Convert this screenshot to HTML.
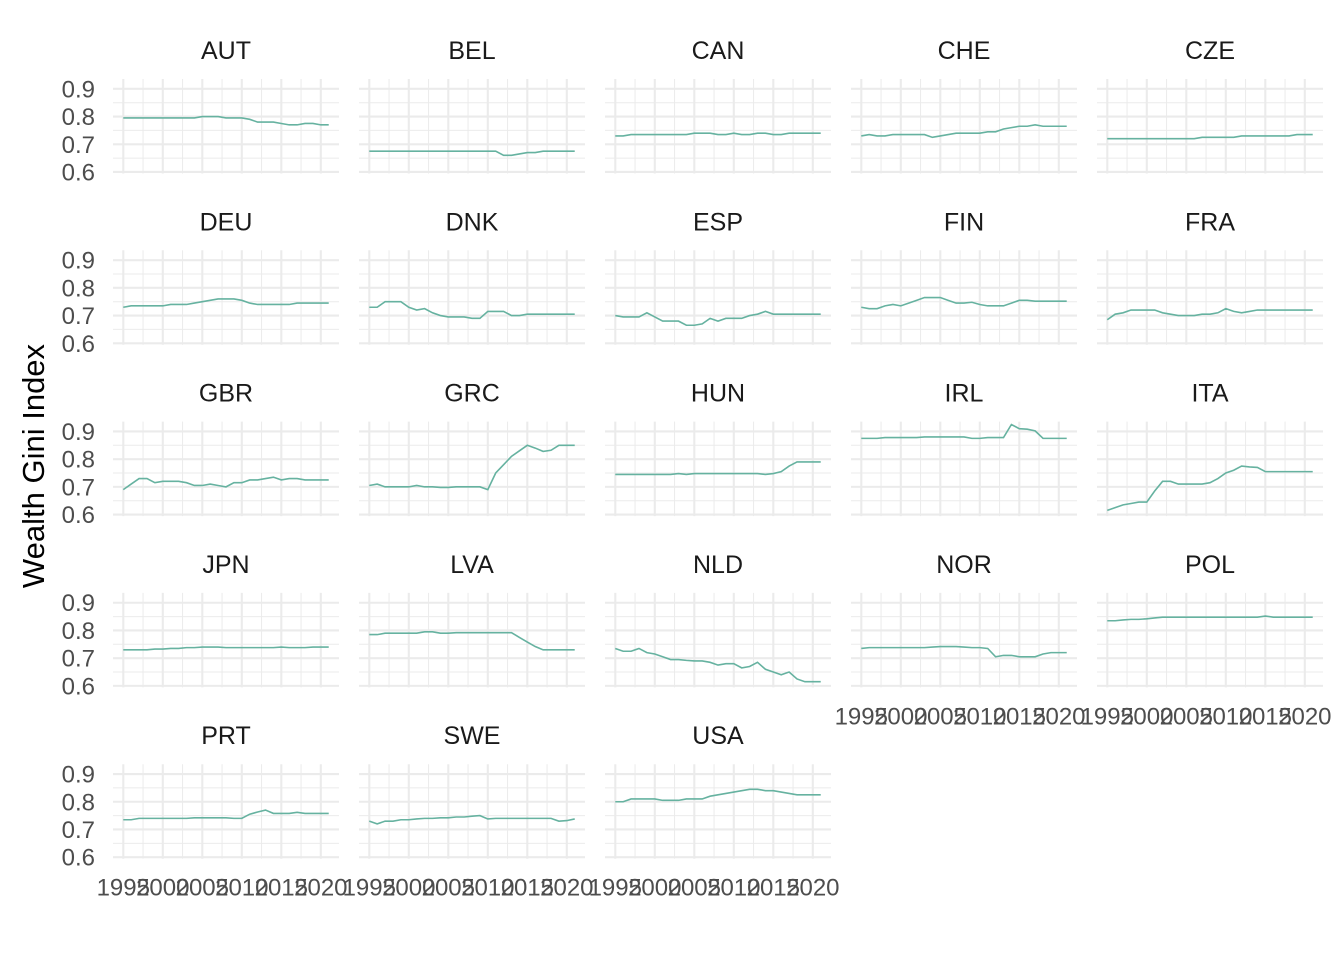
<!DOCTYPE html>
<html><head><meta charset="utf-8"><style>
html,body{margin:0;padding:0;background:#fff;}
svg{display:block;font-family:"Liberation Sans",Arial,sans-serif;}
</style></head><body>
<svg id="chart" width="1344" height="960" viewBox="0 0 1344 960"></svg>
<script>
const countries = ["AUT","BEL","CAN","CHE","CZE","DEU","DNK","ESP","FIN","FRA","GBR","GRC","HUN","IRL","ITA","JPN","LVA","NLD","NOR","POL","PRT","SWE","USA"];
const years = [1995,1996,1997,1998,1999,2000,2001,2002,2003,2004,2005,2006,2007,2008,2009,2010,2011,2012,2013,2014,2015,2016,2017,2018,2019,2020,2021];
const xTicks = [1995,2000,2005,2010,2015,2020];
const yTicks = [0.6,0.7,0.8,0.9];
const yTickLabels = ["0.6","0.7","0.8","0.9"];
const AUT = [0.795,0.795,0.795,0.795,0.795,0.795,0.795,0.795,0.795,0.795,0.8,0.8,0.8,0.795,0.795,0.795,0.79,0.78,0.78,0.78,0.775,0.77,0.77,0.775,0.775,0.77,0.77];
const BEL = [0.675,0.675,0.675,0.675,0.675,0.675,0.675,0.675,0.675,0.675,0.675,0.675,0.675,0.675,0.675,0.675,0.675,0.66,0.66,0.665,0.67,0.67,0.675,0.675,0.675,0.675,0.675];
const CAN = [0.73,0.73,0.735,0.735,0.735,0.735,0.735,0.735,0.735,0.735,0.74,0.74,0.74,0.735,0.735,0.74,0.735,0.735,0.74,0.74,0.735,0.735,0.74,0.74,0.74,0.74,0.74];
const CHE = [0.73,0.735,0.73,0.73,0.735,0.735,0.735,0.735,0.735,0.725,0.73,0.735,0.74,0.74,0.74,0.74,0.745,0.745,0.755,0.76,0.765,0.765,0.77,0.765,0.765,0.765,0.765];
const CZE = [0.72,0.72,0.72,0.72,0.72,0.72,0.72,0.72,0.72,0.72,0.72,0.72,0.725,0.725,0.725,0.725,0.725,0.73,0.73,0.73,0.73,0.73,0.73,0.73,0.735,0.735,0.735];
const DEU = [0.73,0.735,0.735,0.735,0.735,0.735,0.74,0.74,0.74,0.745,0.75,0.755,0.76,0.76,0.76,0.755,0.745,0.74,0.74,0.74,0.74,0.74,0.745,0.745,0.745,0.745,0.745];
const DNK = [0.73,0.73,0.75,0.75,0.75,0.73,0.72,0.725,0.71,0.70,0.695,0.695,0.695,0.69,0.69,0.715,0.715,0.715,0.70,0.70,0.705,0.705,0.705,0.705,0.705,0.705,0.705];
const ESP = [0.70,0.695,0.695,0.695,0.71,0.695,0.68,0.68,0.68,0.665,0.665,0.67,0.69,0.68,0.69,0.69,0.69,0.70,0.705,0.715,0.705,0.705,0.705,0.705,0.705,0.705,0.705];
const FIN = [0.73,0.725,0.725,0.735,0.74,0.735,0.745,0.755,0.765,0.765,0.765,0.755,0.745,0.745,0.748,0.74,0.735,0.735,0.735,0.745,0.755,0.755,0.752,0.752,0.752,0.752,0.752];
const FRA = [0.685,0.705,0.71,0.72,0.72,0.72,0.72,0.71,0.705,0.70,0.70,0.70,0.705,0.705,0.71,0.725,0.715,0.71,0.715,0.72,0.72,0.72,0.72,0.72,0.72,0.72,0.72];
const GBR = [0.69,0.71,0.73,0.73,0.715,0.72,0.72,0.72,0.715,0.705,0.705,0.71,0.705,0.70,0.715,0.715,0.725,0.725,0.73,0.735,0.725,0.73,0.73,0.725,0.725,0.725,0.725];
const GRC = [0.705,0.71,0.70,0.70,0.70,0.70,0.705,0.70,0.70,0.698,0.698,0.70,0.70,0.70,0.70,0.69,0.75,0.78,0.81,0.83,0.85,0.84,0.828,0.832,0.85,0.85,0.85];
const HUN = [0.745,0.745,0.745,0.745,0.745,0.745,0.745,0.745,0.748,0.745,0.748,0.748,0.748,0.748,0.748,0.748,0.748,0.748,0.748,0.745,0.748,0.755,0.775,0.79,0.79,0.79,0.79];
const IRL = [0.875,0.875,0.875,0.878,0.878,0.878,0.878,0.878,0.88,0.88,0.88,0.88,0.88,0.88,0.875,0.875,0.878,0.878,0.878,0.925,0.91,0.908,0.902,0.875,0.875,0.875,0.875];
const ITA = [0.615,0.625,0.635,0.64,0.645,0.645,0.685,0.72,0.72,0.71,0.71,0.71,0.71,0.715,0.73,0.75,0.76,0.775,0.772,0.77,0.755,0.755,0.755,0.755,0.755,0.755,0.755];
const JPN = [0.73,0.73,0.73,0.73,0.733,0.733,0.735,0.735,0.738,0.738,0.74,0.74,0.74,0.738,0.738,0.738,0.738,0.738,0.738,0.738,0.74,0.738,0.738,0.738,0.74,0.74,0.74];
const LVA = [0.785,0.785,0.79,0.79,0.79,0.79,0.79,0.795,0.795,0.79,0.79,0.792,0.792,0.792,0.792,0.792,0.792,0.792,0.792,0.775,0.758,0.742,0.73,0.73,0.73,0.73,0.73];
const NLD = [0.735,0.725,0.725,0.735,0.72,0.715,0.705,0.695,0.695,0.692,0.69,0.69,0.685,0.675,0.68,0.68,0.665,0.67,0.685,0.66,0.65,0.64,0.65,0.625,0.615,0.615,0.615];
const NOR = [0.735,0.738,0.738,0.738,0.738,0.738,0.738,0.738,0.738,0.74,0.742,0.742,0.742,0.74,0.738,0.738,0.735,0.705,0.71,0.71,0.705,0.705,0.705,0.715,0.72,0.72,0.72];
const POL = [0.835,0.835,0.838,0.84,0.84,0.842,0.845,0.848,0.848,0.848,0.848,0.848,0.848,0.848,0.848,0.848,0.848,0.848,0.848,0.848,0.852,0.848,0.848,0.848,0.848,0.848,0.848];
const PRT = [0.735,0.735,0.74,0.74,0.74,0.74,0.74,0.74,0.74,0.742,0.742,0.742,0.742,0.742,0.74,0.74,0.755,0.763,0.77,0.758,0.758,0.758,0.762,0.758,0.758,0.758,0.758];
const SWE = [0.73,0.72,0.73,0.73,0.735,0.735,0.738,0.74,0.74,0.742,0.742,0.745,0.745,0.748,0.75,0.738,0.74,0.74,0.74,0.74,0.74,0.74,0.74,0.74,0.73,0.732,0.738];
const USA = [0.80,0.80,0.81,0.81,0.81,0.81,0.805,0.805,0.805,0.81,0.81,0.81,0.82,0.825,0.83,0.835,0.84,0.845,0.845,0.84,0.84,0.835,0.83,0.825,0.825,0.825,0.825];
const seriesByCountry = {AUT,BEL,CAN,CHE,CZE,DEU,DNK,ESP,FIN,FRA,GBR,GRC,HUN,IRL,ITA,JPN,LVA,NLD,NOR,POL,PRT,SWE,USA};

const NS = "http://www.w3.org/2000/svg";
const svg = document.getElementById("chart");
const PW = 226, PH = 94.5, COLSTEP = 246, ROWSTEP = 171.3, LEFT0 = 113, TOP0 = 79;
const X0 = 1993.7, X1 = 2022.3, Y0 = 0.5945, Y1 = 0.9355;
function mk(tag, attrs, parent){ const e=document.createElementNS(NS,tag); for(const k in attrs) e.setAttribute(k,attrs[k]); (parent||svg).appendChild(e); return e; }
function xs(v,left){ return left + (v-X0)/(X1-X0)*PW; }
function ys(v,top){ return top + (Y1-v)/(Y1-Y0)*PH; }

const title = mk("text",{x:0,y:0,"font-size":"31","fill":"#000","text-anchor":"middle",transform:"translate(44,466) rotate(-90)"});


title.textContent = "Wealth Gini Index";

countries.forEach((c,i)=>{
  const col = i%5, row = Math.floor(i/5);
  const left = LEFT0 + col*COLSTEP, top = TOP0 + row*ROWSTEP;
  const g = mk("g",{});
  
  
  [0.65,0.75,0.85].forEach(v=>mk("line",{x1:left,x2:left+PW,y1:ys(v,top),y2:ys(v,top),stroke:"#ebebeb","stroke-width":1},g));
  for(let k=0;k<xTicks.length-1;k++){ const v=(xTicks[k]+xTicks[k+1])/2; mk("line",{x1:xs(v,left),x2:xs(v,left),y1:top,y2:top+PH,stroke:"#ebebeb","stroke-width":1},g); }
  yTicks.forEach(v=>mk("line",{x1:left,x2:left+PW,y1:ys(v,top),y2:ys(v,top),stroke:"#ebebeb","stroke-width":2.1},g));
  xTicks.forEach(v=>mk("line",{x1:xs(v,left),x2:xs(v,left),y1:top,y2:top+PH,stroke:"#ebebeb","stroke-width":2.1},g));
  const st = mk("text",{x:left+PW/2,y:top-20,"font-size":"25","fill":"#1a1a1a","text-anchor":"middle"},g);
  
  
  st.textContent = c;
  const vals = seriesByCountry[c];
  const d = vals.map((v,j)=>(j?"L":"M")+xs(years[j],left).toFixed(2)+" "+ys(v,top).toFixed(2)).join(" ");
  const p = mk("path",{d:d,fill:"none",stroke:"#66b2a0","stroke-width":1.6},g);
  
  
  if(col===0){
    yTicks.forEach((v,k)=>{
      const t = mk("text",{x:left-18,y:ys(v,top)+8.5,"font-size":"24","fill":"#4d4d4d","text-anchor":"end"},g);
      
      
      t.textContent = yTickLabels[k];
    });
  }
  const isBottom = (i+5>=countries.length);
  if(isBottom){
    xTicks.forEach(v=>{
      const t = mk("text",{x:xs(v,left),y:top+PH+37,"font-size":"24","fill":"#4d4d4d","text-anchor":"middle"},g);
      
      
      t.textContent = String(v);
    });
  }
});
</script>
</body></html>
